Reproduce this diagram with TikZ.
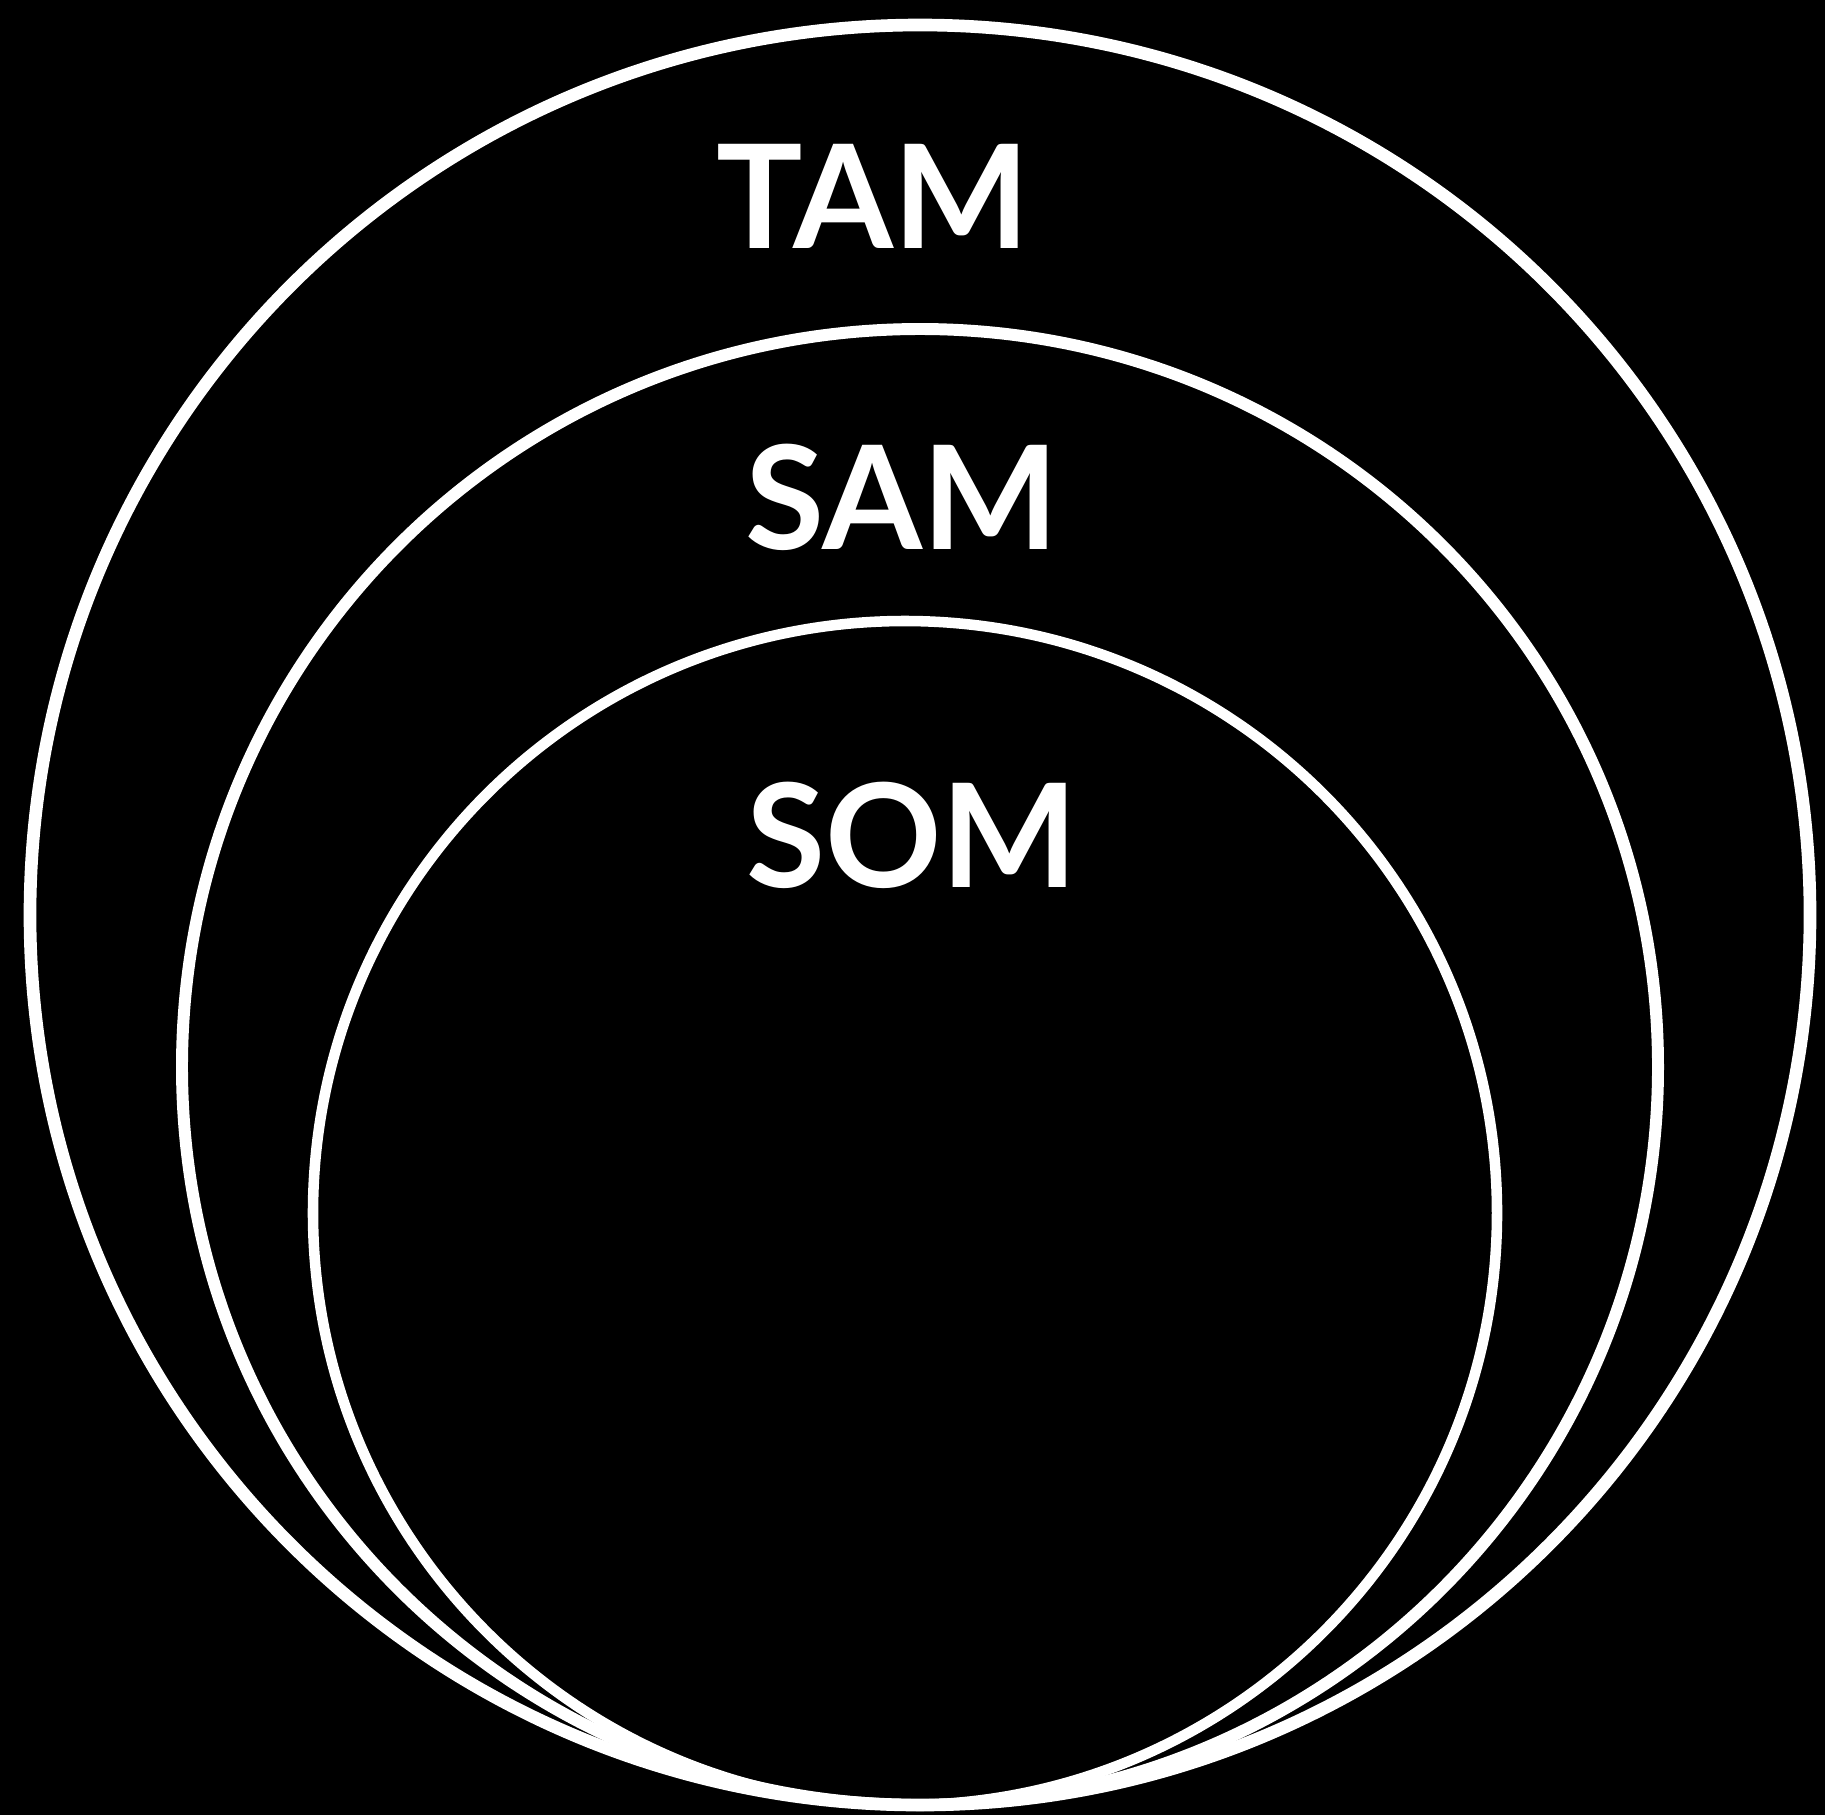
\documentclass[tikz,border=0pt]{standalone}
\usepackage{fontspec}
\setmainfont{Lato}
\begin{document}
\begin{tikzpicture}[x=0.01cm,y=-0.01cm,
  anillo/.style={draw=white},
  etiqueta/.style={text=white,font=\fontsize{41}{49}\selectfont\bfseries,inner sep=0pt}]

  % Fondo negro del tamaño de la figura
  \fill[black] (0,0) rectangle (1825,1815);
  \useasboundingbox (0,0) rectangle (1825,1815);

  % Círculos anidados, tangentes en la parte de abajo
  \foreach \cx/\cy/\r/\w in {920/915/890/3.6pt, 920/1067/738/3.4pt, 905/1213/592/3pt}{
    \draw[anillo, line width=\w] (\cx,\cy) circle[radius=\r];
  }

  % Etiquetas de cada círculo
  \node[etiqueta] (tam) at (873,196) {TAM};
  \node[etiqueta] (sam) at (902,497) {SAM};
  \node[etiqueta] (som) at (912,835) {SOM};

\end{tikzpicture}
\end{document}
